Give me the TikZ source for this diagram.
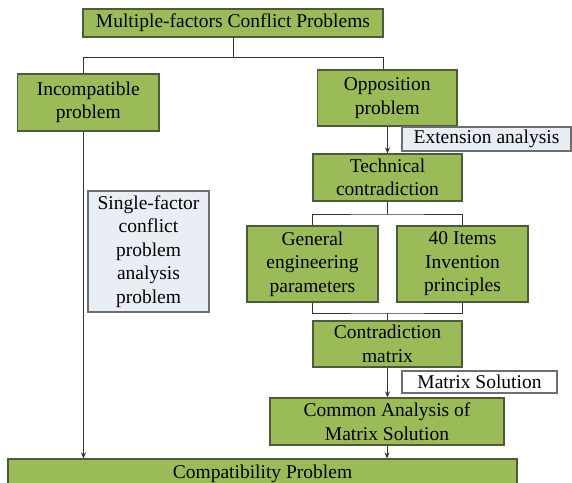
\documentclass[tikz,border=0pt]{standalone}
\usepackage{fontspec}
\setmainfont{Liberation Serif}
\usetikzlibrary{arrows.meta}
\definecolor{boxgreen}{HTML}{9BBB59}
\definecolor{greenedge}{HTML}{4F5A3C}
\definecolor{paleblue}{HTML}{E9EDF4}
\definecolor{paleedge}{HTML}{6E6E6E}
\definecolor{linecol}{HTML}{333333}
\tikzset{
  every node/.style={font=\fontsize{19.5}{23.5}\selectfont, inner sep=0pt, align=center},
  gbox/.style={draw=greenedge, fill=boxgreen, line width=1.3pt},
  pbox/.style={draw=paleedge, fill=paleblue, line width=1.3pt},
  wbox/.style={draw=paleedge, fill=white, line width=1.3pt},
  conn/.style={draw=linecol, line width=1pt},
  arr/.style={conn, -{Stealth[length=6pt,width=5pt]}},
}
\begin{document}
\begin{tikzpicture}[x=1pt, y=-1pt]
  \fill[white] (0,0) rectangle (572,482);
  \useasboundingbox (0,0) rectangle (572,482);

  % boxes
  \node[gbox, minimum width=300pt, minimum height=28pt] (top) at (233,23) {Multiple-factors Conflict Problems};
  \node[gbox, minimum width=141.5pt, minimum height=57pt] (incomp) at (88.25,102.5) {Incompatible\\problem};
  \node[gbox, minimum width=139.5pt, minimum height=56pt] (opp) at (387.25,98) {Opposition\\problem};
  \node[pbox, minimum width=169pt, minimum height=24pt] (ext) at (486.5,139) {Extension analysis};
  \node[gbox, minimum width=149pt, minimum height=47pt] (tech) at (387.5,177.5) {Technical\\contradiction};
  \node[pbox, minimum width=121pt, minimum height=121pt] (single) at (148.5,251.5) {Single-factor\\conflict\\problem\\analysis\\problem};
  \node[gbox, minimum width=131pt, minimum height=76pt] (gen) at (312.5,264) {General\\engineering\\parameters};
  \node[gbox, minimum width=131pt, minimum height=76pt] (items) at (462.5,264) {40 Items\\Invention\\principles};
  \node[gbox, minimum width=149pt, minimum height=46pt] (contra) at (387.5,344) {Contradiction\\matrix};
  \node[wbox, minimum width=155pt, minimum height=22pt] (msol) at (479.5,382) {Matrix Solution};
  \node[gbox, minimum width=234pt, minimum height=47pt] (common) at (387,421.5) {Common Analysis of\\Matrix Solution};
  \node[gbox, minimum width=509pt, minimum height=30pt] (compat) at (262.5,474) {Compatibility Problem};

  % junction points of the connectors
  \coordinate (jt) at (233,57);
  \coordinate (lbend) at (83.5,57);
  \coordinate (rbend) at (383,57);
  \coordinate (ub) at (387.5,214);
  \coordinate (lb) at (387.5,313);

  % connectors
  \draw[conn] (top.south) -- (jt);
  \draw[conn] (incomp.north -| lbend) -- (lbend) -- (rbend) -- (opp.north -| rbend);
  \draw[arr] (incomp.south -| lbend) -- (compat.north -| lbend);
  \draw[arr] (opp.south -| tech.north) -- (tech.north);
  \draw[conn] (tech.south) -- (ub);
  \draw[conn] (gen.north) |- (ub) -| (items.north);
  \draw[conn] (gen.south) |- (lb) -| (items.south);
  \draw[conn] (lb) -- (contra.north);
  \draw[arr] (contra.south) -- (contra.south |- common.north);
  \draw[arr] (common.south) -- (common.south |- compat.north);
\end{tikzpicture}
\end{document}
